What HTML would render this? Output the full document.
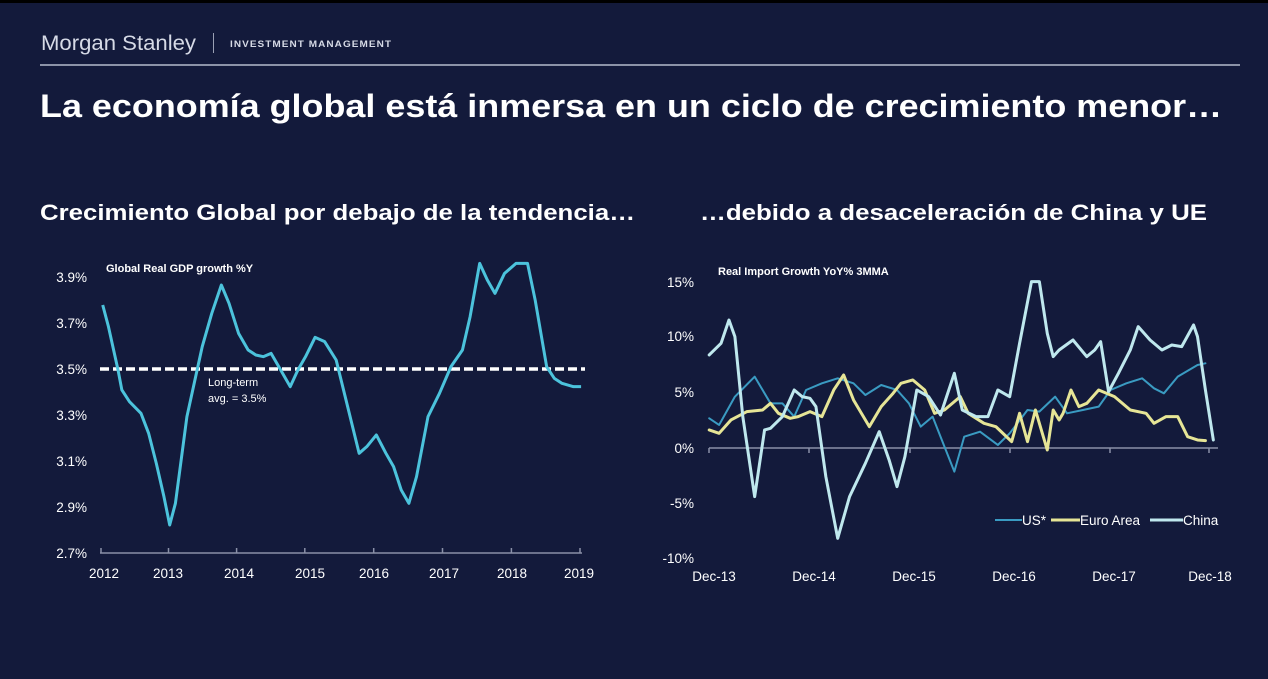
<!DOCTYPE html>
<html><head><meta charset="utf-8"><style>
body{margin:0;width:1268px;height:674px;background:#131a3b;overflow:hidden;font-family:"Liberation Sans",Arial,sans-serif;}
</style></head><body>
<svg width="1268" height="674" xmlns="http://www.w3.org/2000/svg" font-family="Liberation Sans, Arial, sans-serif">
<rect width="1268" height="674" fill="#131a3b"/>
<rect width="1268" height="3" fill="#000"/>
<text x="41" y="50" fill="#d6dae6" font-size="21" textLength="155" lengthAdjust="spacingAndGlyphs">Morgan Stanley</text>
<rect x="213" y="33" width="1" height="20" fill="#9aa0b4"/>
<text x="230" y="47" fill="#d6dae6" font-size="9.5" font-weight="bold" letter-spacing="1" textLength="162" lengthAdjust="spacingAndGlyphs">INVESTMENT MANAGEMENT</text>
<rect x="40" y="64" width="1200" height="2" fill="#8c93a8"/>
<text x="40" y="117" fill="#fff" font-size="32" font-weight="bold" textLength="1182" lengthAdjust="spacingAndGlyphs">La economía global está inmersa en un ciclo de crecimiento menor…</text>
<text x="40" y="220" fill="#fff" font-size="22" font-weight="bold" textLength="595" lengthAdjust="spacingAndGlyphs">Crecimiento Global por debajo de la tendencia…</text>
<text x="700" y="220" fill="#fff" font-size="22" font-weight="bold" textLength="507" lengthAdjust="spacingAndGlyphs">…debido a desaceleración de China y UE</text>

<!-- left chart -->
<g fill="#fff" font-size="13.5" text-anchor="end">
<text x="87" y="282">3.9%</text><text x="87" y="328">3.7%</text><text x="87" y="374">3.5%</text>
<text x="87" y="420">3.3%</text><text x="87" y="466">3.1%</text><text x="87" y="512">2.9%</text><text x="87" y="558">2.7%</text>
</g>
<text x="106" y="272" fill="#fff" font-size="11" font-weight="bold">Global Real GDP growth %Y</text>
<line x1="100" y1="553" x2="582" y2="553" stroke="#8a90a8" stroke-width="1.5"/>
<g stroke="#8a90a8" stroke-width="1.5">
<line x1="101" y1="553" x2="101" y2="548"/><line x1="168.5" y1="553" x2="168.5" y2="548"/><line x1="236.6" y1="553" x2="236.6" y2="548"/><line x1="304.8" y1="553" x2="304.8" y2="548"/><line x1="373.7" y1="553" x2="373.7" y2="548"/><line x1="442.5" y1="553" x2="442.5" y2="548"/><line x1="511.4" y1="553" x2="511.4" y2="548"/><line x1="580" y1="553" x2="580" y2="548"/>
</g>
<g fill="#fff" font-size="13.5" text-anchor="middle">
<text x="104" y="578">2012</text><text x="168" y="578">2013</text><text x="239" y="578">2014</text><text x="310" y="578">2015</text><text x="374" y="578">2016</text><text x="444" y="578">2017</text><text x="512" y="578">2018</text><text x="579" y="578">2019</text>
</g>
<line x1="100" y1="369" x2="585" y2="369" stroke="#fff" stroke-width="3.5" stroke-dasharray="9,4"/>
<text x="208" y="386" fill="#fff" font-size="11">Long-term</text>
<text x="208" y="402" fill="#fff" font-size="11">avg. = 3.5%</text>
<g transform="translate(30,250) scale(0.3827,0.3333)">
<polyline fill="none" stroke="#4cc3dc" stroke-width="3" vector-effect="non-scaling-stroke" stroke-linejoin="round" points="190,165 205,230 230,360 240,420 260,455 290,490 310,550 330,640 350,740 365,825 380,760 410,500 450,290 475,190 500,105 520,160 545,250 570,300 590,315 610,320 630,310 650,350 680,410 700,360 720,320 745,262 770,275 800,330 830,470 860,610 880,590 905,555 930,610 950,650 970,720 990,760 1010,680 1040,500 1070,430 1100,350 1130,300 1150,200 1175,40 1195,90 1215,130 1240,70 1270,40 1300,40 1320,150 1350,350 1370,385 1390,400 1420,410 1440,410"/>
</g>

<!-- right chart -->
<g fill="#fff" font-size="13.5" text-anchor="end">
<text x="694" y="287">15%</text><text x="694" y="341">10%</text><text x="694" y="397">5%</text>
<text x="694" y="453">0%</text><text x="694" y="508">-5%</text><text x="694" y="563">-10%</text>
</g>
<text x="718" y="275" fill="#fff" font-size="11" font-weight="bold">Real Import Growth YoY% 3MMA</text>
<line x1="709" y1="448" x2="1218" y2="448" stroke="#8a90a8" stroke-width="1.5"/>
<g stroke="#8a90a8" stroke-width="1.5">
<line x1="709" y1="448" x2="709" y2="453"/><line x1="809" y1="448" x2="809" y2="453"/><line x1="910" y1="448" x2="910" y2="453"/><line x1="1010" y1="448" x2="1010" y2="453"/><line x1="1110" y1="448" x2="1110" y2="453"/><line x1="1209" y1="448" x2="1209" y2="453"/>
</g>
<g fill="#fff" font-size="13.5" text-anchor="middle">
<text x="714" y="581">Dec-13</text><text x="814" y="581">Dec-14</text><text x="914" y="581">Dec-15</text><text x="1014" y="581">Dec-16</text><text x="1114" y="581">Dec-17</text><text x="1210" y="581">Dec-18</text>
</g>
<g transform="translate(640,250) scale(0.3954,0.3333)" fill="none" stroke-linejoin="round" stroke-linecap="round">
<polyline stroke="#3a9bc2" stroke-width="2" vector-effect="non-scaling-stroke" points="175,505 200,525 240,440 290,380 330,460 360,460 390,500 420,420 460,400 500,385 540,400 570,435 610,405 650,420 680,460 710,530 740,500 770,590 795,665 820,560 860,545 905,585 935,550 980,480 1010,485 1050,440 1080,490 1120,480 1160,470 1190,420 1230,400 1270,385 1300,415 1325,430 1360,380 1410,345 1430,340"/>
<polyline stroke="#e6e596" stroke-width="3" vector-effect="non-scaling-stroke" points="175,540 200,550 230,510 270,485 310,480 330,460 350,490 380,505 400,500 430,485 460,500 490,420 515,375 540,450 580,530 610,470 640,430 660,400 690,390 720,420 745,490 770,480 810,440 830,490 870,520 900,530 940,575 960,490 980,575 1000,480 1020,560 1030,600 1045,480 1060,510 1070,490 1090,420 1110,470 1130,460 1160,420 1200,440 1240,480 1280,490 1300,520 1330,500 1360,500 1385,560 1410,570 1430,572"/>
<polyline stroke="#bfe8ee" stroke-width="3" vector-effect="non-scaling-stroke" points="175,315 205,280 225,210 240,260 260,500 290,740 315,540 330,535 360,500 390,420 410,440 430,445 445,470 470,680 500,865 530,740 570,640 605,545 630,630 650,710 670,620 700,420 730,440 760,495 795,370 815,480 850,500 880,500 905,420 935,440 960,280 990,95 1010,95 1030,250 1045,320 1060,300 1095,270 1130,320 1150,300 1165,275 1185,425 1210,370 1240,300 1260,230 1290,270 1320,300 1345,285 1370,290 1400,225 1410,260 1430,420 1450,570"/>
</g>
<g font-size="13.5" fill="#fff">
<line x1="995" y1="520" x2="1022" y2="520" stroke="#3a9bc2" stroke-width="2"/>
<text x="1022" y="525">US*</text>
<line x1="1051" y1="520" x2="1080" y2="520" stroke="#e6e596" stroke-width="3"/>
<text x="1080" y="525">Euro Area</text>
<line x1="1150" y1="520" x2="1183" y2="520" stroke="#bfe8ee" stroke-width="3"/>
<text x="1183" y="525">China</text>
</g>
</svg>
</body></html>
